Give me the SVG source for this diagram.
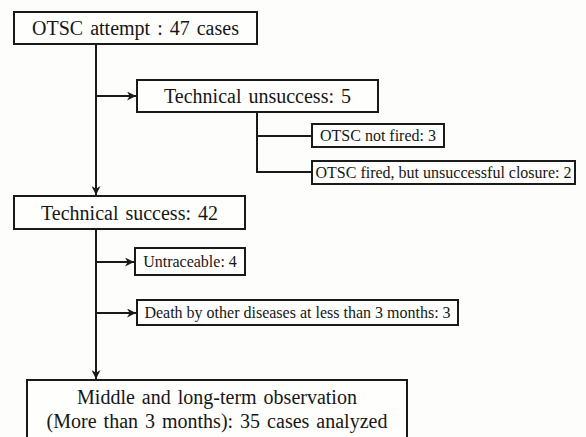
<svg xmlns="http://www.w3.org/2000/svg" width="586" height="437" viewBox="0 0 586 437">
<defs>
<marker id="arr" viewBox="0 0 10 10" refX="10" refY="5" markerWidth="4.5" markerHeight="4.5" orient="auto" markerUnits="strokeWidth">
<path d="M0,0 L10,5 L0,10 L3,5 z" fill="#1a1a1a"/>
</marker>
<style>
.box{fill:#fefefc;stroke:#1a1a1a;stroke-width:2}
.ln{fill:none;stroke:#1a1a1a;stroke-width:2}
.t{font-family:'Times New Roman','Liberation Serif','DejaVu Serif',serif;fill:#161616;text-anchor:middle}
.big{font-size:20px;word-spacing:2px}
.sm{font-size:16px}
</style>
</defs>
<rect width="586" height="437" fill="#fdfdfb"/>
<g id="connectors">
<line class="ln" x1="96" y1="44" x2="96" y2="195" marker-end="url(#arr)"/>
<line class="ln" x1="96" y1="96" x2="136" y2="96" marker-end="url(#arr)"/>
<polyline class="ln" points="257,112 257,172 312,172"/>
<line class="ln" x1="257" y1="136" x2="312" y2="136"/>
<line class="ln" x1="96" y1="229" x2="96" y2="379" marker-end="url(#arr)"/>
<line class="ln" x1="96" y1="262" x2="134" y2="262" marker-end="url(#arr)"/>
<line class="ln" x1="96" y1="313" x2="136" y2="313" marker-end="url(#arr)"/>
</g>
<g id="n1">
<rect class="box" x="14" y="12" width="243" height="32"/>
<text class="t big" font-family="Liberation Serif, serif" x="135.5" y="35">OTSC attempt : 47 cases</text>
</g>
<g id="n2">
<rect class="box" x="137" y="80" width="241" height="32"/>
<text class="t big" font-family="Liberation Serif, serif" x="257.5" y="103">Technical unsuccess: 5</text>
</g>
<g id="n3">
<rect class="box" x="312" y="124" width="132" height="23"/>
<text class="t sm" font-family="Liberation Serif, serif" x="378" y="141">OTSC not fired: 3</text>
</g>
<g id="n4">
<rect class="box" x="312" y="161" width="263" height="23"/>
<text class="t sm" font-family="Liberation Serif, serif" x="443.5" y="178">OTSC fired, but unsuccessful closure: 2</text>
</g>
<g id="n5">
<rect class="box" x="14" y="196" width="231" height="33"/>
<text class="t big" font-family="Liberation Serif, serif" x="129.5" y="220">Technical success: 42</text>
</g>
<g id="n6">
<rect class="box" x="135" y="248" width="110" height="27"/>
<text class="t sm" font-family="Liberation Serif, serif" x="190" y="267">Untraceable: 4</text>
</g>
<g id="n7">
<rect class="box" x="137" y="300" width="321" height="25"/>
<text class="t sm" font-family="Liberation Serif, serif" x="297.5" y="318">Death by other diseases at less than 3 months: 3</text>
</g>
<g id="n8">
<rect class="box" x="27" y="380" width="380" height="62"/>
<text class="t big" font-family="Liberation Serif, serif" x="217" y="404">Middle and long-term observation</text>
<text class="t big" font-family="Liberation Serif, serif" x="217" y="428">(More than 3 months): 35 cases analyzed</text>
</g>
</svg>
